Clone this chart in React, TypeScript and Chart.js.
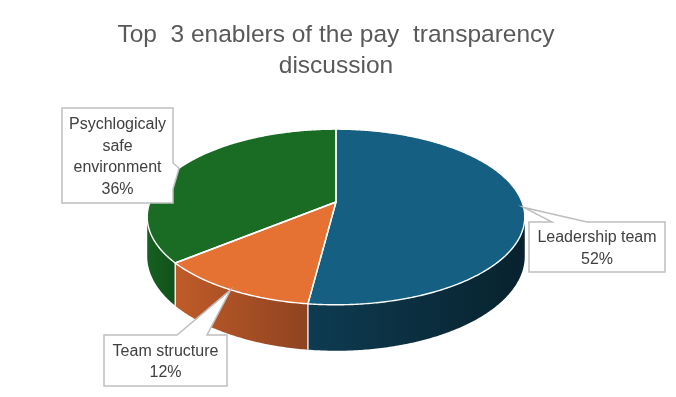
import React, { useEffect, useRef } from "react";
import { Chart, registerables } from "chart.js";

Chart.register(...registerables);

// ---- data ----
const titleLines = ["Top  3 enablers of the pay  transparency", "discussion"];
const categories = ["Leadership team", "Team structure", "Psychlogicaly safe environment"];
const values = [52, 12, 36];
const labelLines = [
  ["Leadership team", "52%"],
  ["Team structure", "12%"],
  ["Psychlogicaly", "safe", "environment", "36%"],
];
const topColors = ["#156082", "#E57232", "#1A6B24"];
const sideLight = ["#0E3B51", "#C05B29", "#165F22"];
const sideDark = ["#08222E", "#8E4320", "#115219"];

// ---- layout / style constants (not data) ----
const W = 676;
const H = 397;
const P = 0.1705; // perspective strength
const TILT = 0.4584; // vertical squash of the disk
const DEPTH = 0.205; // thickness relative to radius
// callout boxes: [left, top, right, bottom], wedge side and base positions
const boxes = [
  { r: [529, 222, 665, 272], side: "top", b: [552, 587] },
  { r: [104, 335, 227, 386], side: "top", b: [177, 207] },
  { r: [62, 108, 173, 203], side: "right", b: [163, 189] },
];

function project(arc: any, a: number, h: number) {
  const s = Math.sin(a);
  const c = Math.cos(a);
  const w = -s;
  const d = 1 + P * w;
  const R = arc.outerRadius;
  return { x: arc.x + (R * c) / d, y: arc.y + (R * (TILT * s + DEPTH * h)) / d };
}

function samples(a0: number, a1: number) {
  const n = Math.max(2, Math.ceil(Math.abs(a1 - a0) / 0.01));
  const out: number[] = [];
  for (let i = 0; i <= n; i++) out.push(a0 + ((a1 - a0) * i) / n);
  return out;
}

const pie3d = {
  id: "pie3d",
  beforeDatasetsDraw(chart: any) {
    const ctx = chart.ctx as CanvasRenderingContext2D;
    const arcs = chart.getDatasetMeta(0).data as any[];
    const vis0 = Math.asin(P);
    const vis1 = Math.PI - vis0;
    ctx.save();
    // side walls
    arcs.forEach((arc, i) => {
      const lo = Math.max(arc.startAngle, vis0);
      const hi = Math.min(arc.endAngle, vis1);
      if (lo >= hi) return;
      const pts = samples(lo, hi);
      ctx.beginPath();
      pts.forEach((a, k) => {
        const p = project(arc, a, 0);
        if (k === 0) ctx.moveTo(p.x, p.y);
        else ctx.lineTo(p.x, p.y);
      });
      for (let k = pts.length - 1; k >= 0; k--) {
        const p = project(arc, pts[k], 1);
        ctx.lineTo(p.x, p.y);
      }
      ctx.closePath();
      const xl = project(arc, hi, 0).x;
      const xr = project(arc, lo, 0).x;
      const g = ctx.createLinearGradient(Math.min(xl, xr), 0, Math.max(xl, xr), 0);
      g.addColorStop(0, sideLight[i]);
      g.addColorStop(1, sideDark[i]);
      ctx.fillStyle = g;
      ctx.fill();
    });
    // vertical edges between walls
    ctx.strokeStyle = "#FFFFFF";
    ctx.lineWidth = 1.3;
    arcs.forEach((arc) => {
      const b = arc.endAngle;
      if (b > vis0 && b < vis1) {
        const p0 = project(arc, b, 0);
        const p1 = project(arc, b, 1);
        ctx.beginPath();
        ctx.moveTo(p0.x, p0.y);
        ctx.lineTo(p1.x, p1.y);
        ctx.stroke();
      }
    });
    // top faces
    arcs.forEach((arc, i) => {
      const pts = samples(arc.startAngle, arc.endAngle);
      ctx.beginPath();
      ctx.moveTo(arc.x, arc.y);
      pts.forEach((a) => {
        const p = project(arc, a, 0);
        ctx.lineTo(p.x, p.y);
      });
      ctx.closePath();
      ctx.fillStyle = topColors[i];
      ctx.fill();
    });
    arcs.forEach((arc) => {
      const pts = samples(arc.startAngle, arc.endAngle);
      ctx.beginPath();
      ctx.moveTo(arc.x, arc.y);
      pts.forEach((a) => {
        const p = project(arc, a, 0);
        ctx.lineTo(p.x, p.y);
      });
      ctx.closePath();
      ctx.strokeStyle = "#FFFFFF";
      ctx.lineWidth = 1.4;
      ctx.lineJoin = "round";
      ctx.stroke();
    });
    ctx.restore();
    return false;
  },
  afterDraw(chart: any) {
    const ctx = chart.ctx as CanvasRenderingContext2D;
    const arcs = chart.getDatasetMeta(0).data as any[];
    ctx.save();
    // title
    ctx.fillStyle = "#595959";
    ctx.font = "24.5px 'Liberation Sans', Arial, sans-serif";
    ctx.textAlign = "center";
    ctx.textBaseline = "alphabetic";
    titleLines.forEach((t, i) => ctx.fillText(t, 336, 42 + i * 31));
    // callouts
    arcs.forEach((arc, i) => {
      const mid = (arc.startAngle + arc.endAngle) / 2;
      const tip = project(arc, mid, 0);
      const bx = boxes[i];
      const [l, t, r, b] = bx.r;
      ctx.beginPath();
      if (bx.side === "top") {
        ctx.moveTo(l, t);
        ctx.lineTo(bx.b[0], t);
        ctx.lineTo(tip.x, tip.y);
        ctx.lineTo(bx.b[1], t);
        ctx.lineTo(r, t);
        ctx.lineTo(r, b);
        ctx.lineTo(l, b);
      } else {
        ctx.moveTo(l, t);
        ctx.lineTo(r, t);
        ctx.lineTo(r, bx.b[0]);
        ctx.lineTo(tip.x, tip.y);
        ctx.lineTo(r, bx.b[1]);
        ctx.lineTo(r, b);
        ctx.lineTo(l, b);
      }
      ctx.closePath();
      ctx.fillStyle = "#FFFFFF";
      ctx.fill();
      ctx.strokeStyle = "#BFBFBF";
      ctx.lineWidth = 1.5;
      ctx.lineJoin = "miter";
      ctx.stroke();
      const lines = labelLines[i];
      const lh = 21.5;
      const cx = (l + r) / 2;
      const cy = (t + b) / 2;
      ctx.fillStyle = "#404040";
      ctx.font = "16px 'Liberation Sans', Arial, sans-serif";
      ctx.textAlign = "center";
      lines.forEach((s, k) => {
        ctx.fillText(s, cx, cy - ((lines.length - 1) * lh) / 2 + 6 + k * lh);
      });
    });
    ctx.restore();
  },
};

export default function App() {
  const ref = useRef<HTMLCanvasElement | null>(null);
  useEffect(() => {
    if (!ref.current) return;
    const chart = new Chart(ref.current, {
      type: "pie",
      data: {
        labels: categories,
        datasets: [{ data: values, backgroundColor: topColors, borderWidth: 0 }],
      },
      options: {
        responsive: false,
        animation: false,
        events: [],
        radius: 186,
        layout: { padding: { left: 0, right: 4, top: 7, bottom: 0 } },
        plugins: { legend: { display: false }, tooltip: { enabled: false }, title: { display: false } },
      } as any,
      plugins: [pie3d],
    });
    return () => chart.destroy();
  }, []);
  return (
    <div style={{ position: "absolute", left: 0, top: 0, width: W, height: H, background: "#FFFFFF" }}>
      <canvas ref={ref} width={W} height={H} style={{ display: "block" }} />
    </div>
  );
}
